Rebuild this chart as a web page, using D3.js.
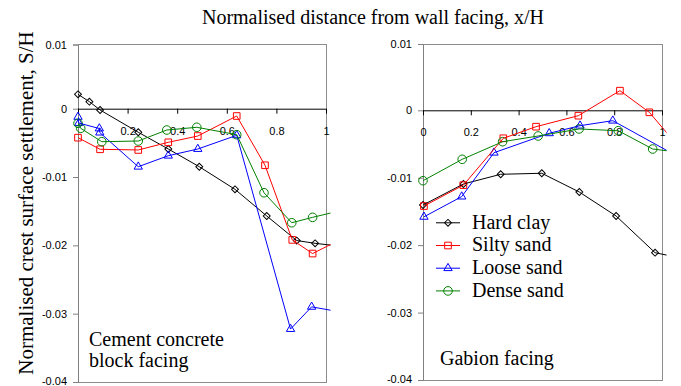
<!DOCTYPE html>
<html><head><meta charset="utf-8">
<script src="https://cdn.jsdelivr.net/npm/d3@7"></script>
<style>body{margin:0;background:#fff}svg{display:block}</style>
</head><body>
<svg id="c" width="681" height="386"></svg>
<script>
// ---------- data ----------
const seriesNames = ["Hard clay", "Silty sand", "Loose sand", "Dense sand"];
const xTickValues = [0, 0.2, 0.4, 0.6, 0.8, 1];
const xTickLabels = ["0", "0.2", "0.4", "0.6", "0.8", "1"];
const yTickValues = [0.01, 0, -0.01, -0.02, -0.03, -0.04];
const yTickLabels = ["0.01", "0", "-0.01", "-0.02", "-0.03", "-0.04"];

// Cement concrete block facing
const ccHardClayX  = [0, 0.046, 0.089, 0.243, 0.364, 0.489, 0.633, 0.761, 0.882, 0.956, 1.05];
const ccHardClayY  = [0.00224, 0.00109, -0.00019, -0.00345, -0.0059, -0.00849, -0.0118, -0.0157, -0.0193, -0.0197, -0.0201];
const ccSiltyX     = [0, 0.089, 0.243, 0.364, 0.483, 0.640, 0.754, 0.864, 0.946, 1.05];
const ccSiltyY     = [-0.00424, -0.00594, -0.00604, -0.00492, -0.0040, -0.00107, -0.00828, -0.0192, -0.0212, -0.0193];
const ccLooseX     = [0, 0.003, 0.086, 0.088, 0.243, 0.364, 0.483, 0.640, 0.857, 0.942, 1.05];
const ccLooseY     = [-0.0012, -0.0021, -0.0029, -0.0035, -0.00849, -0.00688, -0.0059, -0.0039, -0.03225, -0.0290, -0.0297];
const ccDenseX     = [0, 0.011, 0.096, 0.243, 0.358, 0.479, 0.640, 0.750, 0.862, 0.946, 1.05];
const ccDenseY     = [-0.00214, -0.00287, -0.00483, -0.00473, -0.00312, -0.00272, -0.0038, -0.0123, -0.01669, -0.0159, -0.0150];

// Gabion facing
const gbHardClayX  = [0, 0.169, 0.325, 0.497, 0.654, 0.808, 0.971, 1.05];
const gbHardClayY  = [-0.01405, -0.01093, -0.00949, -0.00934, -0.01212, -0.01568, -0.02112, -0.0217];
const gbSiltyX     = [0.004, 0.169, 0.336, 0.473, 0.650, 0.824, 0.947, 1.05];
const gbSiltyY     = [-0.0142, -0.0111, -0.00415, -0.00243, -0.0008, 0.00296, -0.0003, -0.0046];
const gbLooseX     = [0.004, 0.162, 0.297, 0.528, 0.657, 0.794, 1.05];
const gbLooseY     = [-0.0158, -0.0128, -0.00629, -0.00341, -0.00228, -0.00154, -0.00654];
const gbDenseX     = [0, 0.164, 0.333, 0.482, 0.653, 0.817, 0.961, 1.05];
const gbDenseY     = [-0.01044, -0.00727, -0.00466, -0.00381, -0.00277, -0.00303, -0.00574, -0.00614];

// ---------- style ----------
const colors = ["#000000", "#ff0000", "#0000ff", "#008000"];
const symbols = ["diamond", "square", "triangle", "circle"];
const serif = "'Liberation Serif','Times New Roman',serif";
const sans = "'Liberation Sans',Arial,sans-serif";

const svg = d3.select("#c");

function markerPath(type) {
  if (type === "diamond") return d3.symbol().type(d3.symbolSquare).size(24)();
  if (type === "square") return d3.symbol().type(d3.symbolSquare).size(44)();
  if (type === "triangle") return d3.symbol().type(d3.symbolTriangle).size(30)();
  return d3.symbol().type(d3.symbolCircle).size(58)();
}
function drawMarker(g, type, color, x, y) {
  g.append("path")
    .attr("d", markerPath(type))
    .attr("transform", `translate(${x},${y})` + (type === "diamond" ? " rotate(45)" : ""))
    .attr("fill", "none").attr("stroke", color).attr("stroke-width", 1);
}

function panel(id, left, right, yTop, yZero, yBottom, data, showX0, label) {
  const x = d3.scaleLinear().domain([0, 1]).range([left, right]);
  const y = d3.scaleLinear().domain([0.01, 0, -0.04]).range([yTop, yZero, yBottom]);
  const g = svg.append("g");

  // plot area border
  g.append("rect").attr("x", left).attr("y", yTop).attr("width", right - left).attr("height", yBottom - yTop)
    .attr("fill", "none").attr("stroke", "#8c8c8c").attr("stroke-width", 1).attr("shape-rendering", "crispEdges");

  // y axis
  const ya = d3.axisLeft(y).tickValues(yTickValues).tickSize(5).tickPadding(6)
    .tickFormat((d, i) => yTickLabels[i]);
  const yg = g.append("g").attr("transform", `translate(${left},0)`).call(ya);
  yg.select(".domain").attr("stroke", "#808080");
  yg.selectAll(".tick line").attr("stroke", "#808080");
  yg.selectAll("text").attr("font-family", sans).attr("font-size", 11).attr("fill", "#000");
  yg.selectAll(".tick").filter(d => d === -0.04).select("text").attr("dy", "0.22em");

  // x axis at zero
  const xa = d3.axisBottom(x).tickValues(xTickValues).tickSize(5).tickPadding(0)
    .tickFormat((d, i) => xTickLabels[i]);
  const xg = g.append("g").attr("transform", `translate(0,${y(0)})`).call(xa);
  xg.select(".domain").attr("stroke", "#000").attr("d", `M${left},0.5H${right}`);
  xg.selectAll(".tick line").attr("stroke", "#000");
  xg.selectAll("text").attr("font-family", sans).attr("font-size", 11).attr("fill", "#000")
    .attr("dy", null).attr("y", 26);
  if (!showX0) xg.selectAll(".tick").filter(d => d === 0).select("text").remove();

  // clips
  svg.append("clipPath").attr("id", id).append("rect")
    .attr("x", left - 10).attr("y", yTop - 10).attr("width", right - left + 14).attr("height", yBottom - yTop + 20);
  const pg = g.append("g").attr("clip-path", `url(#${id})`);
  const line = d3.line().x(d => x(d[0])).y(d => y(d[1]));
  const lineClipId = id + "L";
  svg.append("clipPath").attr("id", lineClipId).append("rect")
    .attr("x", left).attr("y", yTop).attr("width", right - left + 4.5).attr("height", yBottom - yTop);
  data.forEach((s, i) => {
    const pts = s.xs.map((v, k) => [v, s.ys[k]]);
    g.append("path").datum(pts).attr("clip-path", `url(#${lineClipId})`)
      .attr("d", line).attr("fill", "none").attr("stroke", colors[i]).attr("stroke-width", 1);
  });
  data.forEach((s, i) => {
    s.xs.forEach((v, k) => {
      if (v <= 1) drawMarker(pg, symbols[i], colors[i], x(v), y(s.ys[k]));
    });
  });

  // panel label
  label.lines.forEach((t, k) => {
    g.append("text").attr("x", label.x).attr("y", label.y + k * 21).text(t)
      .attr("font-family", serif).attr("font-size", 20).attr("fill", "#000");
  });
}

panel("cc", 78, 326, 44.5, 108.7, 382, [
  { xs: ccHardClayX, ys: ccHardClayY },
  { xs: ccSiltyX, ys: ccSiltyY },
  { xs: ccLooseX, ys: ccLooseY },
  { xs: ccDenseX, ys: ccDenseY }
], false, { x: 89, y: 346, lines: ["Cement concrete", "block facing"] });

panel("gb", 423, 662, 44, 110.3, 380, [
  { xs: gbHardClayX, ys: gbHardClayY },
  { xs: gbSiltyX, ys: gbSiltyY },
  { xs: gbLooseX, ys: gbLooseY },
  { xs: gbDenseX, ys: gbDenseY }
], true, { x: 440, y: 365, lines: ["Gabion facing"] });

// title and y-axis title
svg.append("text").attr("x", 373).attr("y", 24).attr("text-anchor", "middle")
  .attr("font-family", serif).attr("font-size", 20).text("Normalised distance from wall facing, x/H");
svg.append("text").attr("transform", "translate(33,203) rotate(-90)").attr("text-anchor", "middle")
  .attr("font-family", serif).attr("font-size", 21).text("Normalised crest surface settlement, S/H");

// legend
const lg = svg.append("g");
seriesNames.forEach((n, i) => {
  const cy = 222.8 + i * 22.7;
  lg.append("line").attr("x1", 436).attr("x2", 460).attr("y1", cy).attr("y2", cy)
    .attr("stroke", colors[i]).attr("stroke-width", 1);
  drawMarker(lg, symbols[i], colors[i], 448, cy);
  lg.append("text").attr("x", 472).attr("y", cy + 5.7).text(n)
    .attr("font-family", serif).attr("font-size", 20).attr("fill", "#000");
});
</script>
</body></html>
